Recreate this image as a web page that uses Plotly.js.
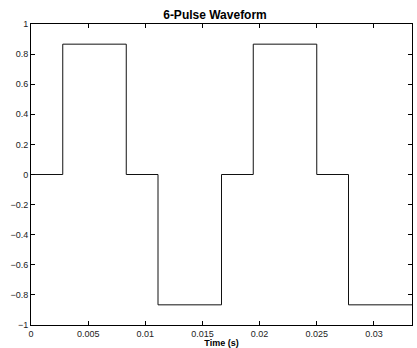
<!DOCTYPE html>
<html><head><meta charset="utf-8">
<script src="https://cdn.plot.ly/plotly-3.0.1.min.js"></script>
<style>html,body{margin:0;padding:0;background:#fff}#chart{width:417px;height:348px}</style>
</head><body><div id="chart"></div>
<script>
const time = [0, 0.002778, 0.008333, 0.011111, 0.016667, 0.019444, 0.025, 0.027778, 0.033333];
const voltage = [0, 0.866, 0, -0.866, 0, 0.866, 0, -0.866, -0.866];
const xTicks = [0, 0.005, 0.01, 0.015, 0.02, 0.025, 0.03];
const yTicks = [-1, -0.8, -0.6, -0.4, -0.2, 0, 0.2, 0.4, 0.6, 0.8, 1];

const font = {family: '"Liberation Sans", Arial, sans-serif', size: 9, color: '#222'};
const axisCommon = {
  showgrid: false, zeroline: false, showline: true, mirror: 'ticks',
  linecolor: '#000', linewidth: 1, ticks: 'inside', ticklen: 4, tickcolor: '#000',
  tickfont: font
};
Plotly.newPlot('chart', [{
  x: time, y: voltage, type: 'scatter', mode: 'lines',
  line: {shape: 'hv', color: '#111', width: 1}, hoverinfo: 'skip'
}], {
  width: 417, height: 348,
  margin: {l: 31, r: 5, t: 24, b: 23},
  paper_bgcolor: '#fff', plot_bgcolor: '#fff',
  showlegend: false,
  title: {text: '<b>6-Pulse Waveform</b>', font: {family: font.family, size: 12, color: '#000'}, x: 0.5156, xanchor: 'center', y: 0.957, yanchor: 'middle'},
  xaxis: Object.assign({}, axisCommon, {
    range: [0, 0.033333], tickvals: xTicks, ticktext: xTicks.map(String),
    title: {text: '<b>Time (s)</b>', font: {family: font.family, size: 9, color: '#000'}, standoff: 2}
  }),
  yaxis: Object.assign({}, axisCommon, {
    range: [-1, 1], tickvals: yTicks, ticktext: yTicks.map(v => v < 0 ? '\u2212' + String(-v) : String(v))
  })
}, {displayModeBar: false, staticPlot: true});
</script></body></html>
